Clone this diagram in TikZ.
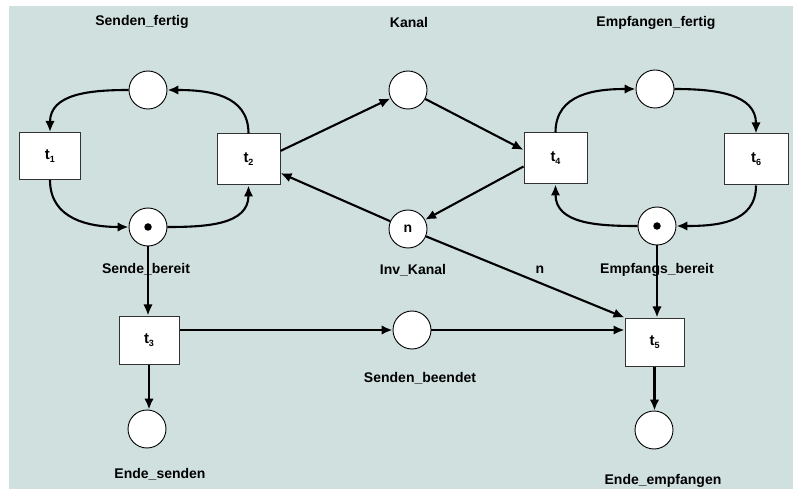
\documentclass[tikz,border=0pt]{standalone}
\usepackage{fontspec}
\setmainfont{Liberation Sans}
\usetikzlibrary{arrows.meta}
\definecolor{bgc}{RGB}{208,224,223}
\newcommand\tsub[1]{{\fontsize{15}{16}\selectfont t}\raisebox{-3pt}{\fontsize{9}{10}\selectfont #1}}
\begin{document}
\begin{tikzpicture}[x=1pt,y=-1pt,
  every node/.style={font=\fontsize{14}{16}\selectfont\bfseries},
  place/.style={circle,draw=black,line width=0.9pt,fill=white,minimum size=38pt,inner sep=0pt},
  trans/.style={rectangle,draw=black!80,line width=1pt,fill=white,minimum width=61pt,minimum height=49pt,inner sep=0pt},
  lbl/.style={inner sep=0pt},
  arc/.style={line width=2.1pt,-{Latex[length=11pt,width=9.5pt]}},
  token/.style={circle,fill=black,inner sep=0pt,minimum size=7.5pt}]
\useasboundingbox (0,0) rectangle (793,489);
\fill[white] (0,0) rectangle (793,489);
\fill[bgc] (9,6) rectangle (793,489);
% places
\node[place] (SF) at (148,90) {};
\node[place] (K) at (408,90) {};
\node[place] (EF) at (655,89) {};
\node[place] (SB) at (148,227) {};
\node[token] (SBt) at (SB) {};
\node[place] (IK) at (408,229) {n};
\node[place] (EB) at (657,226) {};
\node[token] (EBt) at (EB) {};
\node[place] (SBe) at (412,330) {};
\node[place] (ES) at (147,429) {};
\node[place] (EE) at (654,430) {};
% transitions
\node[trans,minimum height=47pt] (t1) at (50,156) {\tsub{1}};
\node[trans,minimum width=63pt,minimum height=51pt] (t2) at (248.5,159.5) {\tsub{2}};
\node[trans,minimum width=60pt,minimum height=48pt] (t3) at (149,340) {\tsub{3}};
\node[trans,minimum width=63pt,minimum height=51pt] (t4) at (555.5,158.5) {\tsub{4}};
\node[trans,minimum width=59pt,minimum height=48pt] (t5) at (654.5,342) {\tsub{5}};
\node[trans,minimum width=64pt,minimum height=51pt] (t6) at (756,159.5) {\tsub{6}};
% labels
\node[lbl] (lSF) at (142,22) {Senden\_fertig};
\node[lbl] (lK) at (409,22) {Kanal};
\node[lbl] (lEF) at (656,23) {Empfangen\_fertig};
\node[lbl] (lSB) at (146,269) {Sende\_bereit};
\node[lbl] (lIK) at (413,270) {Inv\_Kanal};
\node[lbl] (lEB) at (657,270) {Empfangs\_bereit};
\node[lbl] (lSBe) at (420,378) {Senden\_beendet};
\node[lbl] (lES) at (160,474) {Ende\_senden};
\node[lbl] (lEE) at (663,481) {Ende\_empfangen};
\node[lbl] (ln) at (540,270) {n};
% arcs
\draw[arc] (SF.west) to[out=180,in=90,looseness=1.1] (t1.north);
\draw[arc] (t2.north) to[out=90,in=0,looseness=1.1] (SF.east);
\draw[arc] (t1.south) to[out=-90,in=180,looseness=1.1] (SB.west);
\draw[arc] (SB.east) to[out=0,in=-90,looseness=1.1] (t2.south);
\draw[arc] (t2.15) -- (K);
\draw[arc] (K) -- (t4.165);
\draw[arc] (t4.194) -- (IK);
\draw[arc] (IK) -- (t2.337);
\draw[arc] (t4.north) to[out=90,in=180,looseness=1.1] (EF.west);
\draw[arc] (EF.east) to[out=0,in=90,looseness=1.1] (t6.north);
\draw[arc] (t6.south) to[out=-90,in=0,looseness=1.1] (EB.east);
\draw[arc] (EB.west) to[out=180,in=-90,looseness=1.1] (t4.south);
\draw[arc] (EB) -- (EB |- t5.north);
\draw[arc] (IK) -- (t5.north west);
\draw[arc] (SB) -- (SB |- t3.north);
\draw[arc] (t3.east |- SBe) -- (SBe);
\draw[arc] (SBe) -- (SBe -| t5.west);
\draw[arc] (t3.south) -- (t3.south |- ES.north);
\draw[arc] (t5.south) -- (t5.south |- EE.north);
\end{tikzpicture}
\end{document}
